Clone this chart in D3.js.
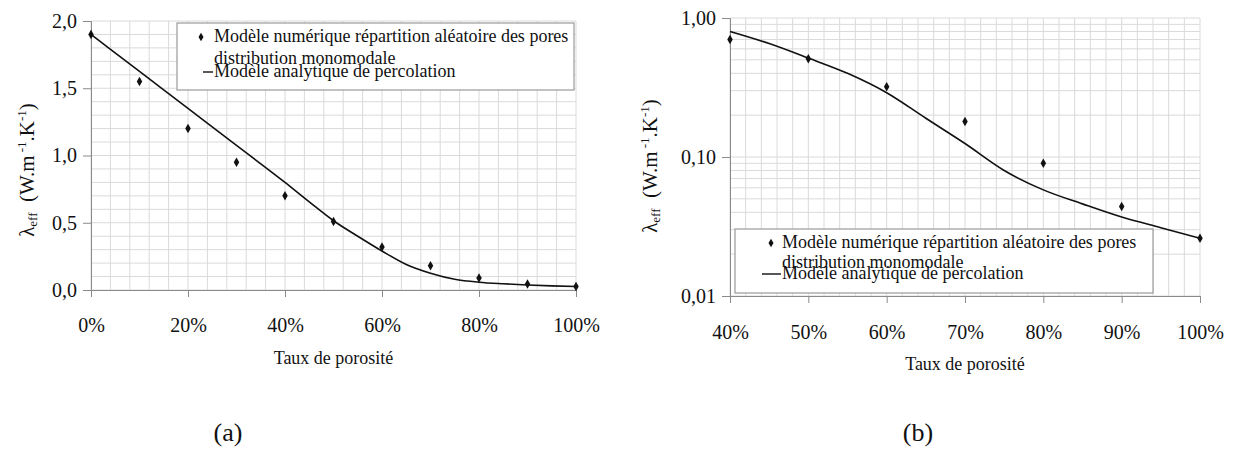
<!DOCTYPE html>
<meta charset="utf-8">
<body style="margin:0;background:#fff">
<div id="div-svg"></div>
<style>
  svg text { font-family: "Liberation Serif", "Times New Roman", "DejaVu Serif", serif !important; fill: #111; }
</style>
<script src="https://cdn.jsdelivr.net/npm/d3@7"></script>
<script>
    // porosity (%) and effective conductivity values
    var porosite = [0, 10, 20, 30, 40, 50, 60, 70, 80, 90, 100];
    var numerique = [1.9, 1.55, 1.2, 0.95, 0.70, 0.51, 0.32, 0.18, 0.09, 0.044, 0.026];
    var porositeAnalytique = [0, 10, 20, 30, 40, 45, 50, 55, 60, 65, 70, 75, 80, 85, 90, 95, 100];
    var analytique = [1.9, 1.625, 1.35, 1.075, 0.80, 0.655, 0.515, 0.40, 0.29, 0.19, 0.125, 0.08, 0.058, 0.046, 0.037, 0.031, 0.026];

    var ticksXa = [0, 20, 40, 60, 80, 100];
    var ticksYa = [0, 0.5, 1, 1.5, 2];
    var ticksXb = [40, 50, 60, 70, 80, 90, 100];
    var ticksYb = [0.01, 0.1, 1];

    var legendLabels = ["Modèle numérique répartition aléatoire des pores", "distribution monomodale", "Modèle analytique de percolation"];
    var captions = ["(a)", "(b)"];

    var width = 1235, height = 463;
    var svg = d3.select("#div-svg").append("svg")
        .attr("width", width)
        .attr("height", height);

    var pts = porosite.map(function(p, i){ return {x: p, y: numerique[i]}; });
    var curve = porositeAnalytique.map(function(p, i){ return {x: p, y: analytique[i]}; });

    function panel(o) {
      var g = svg.append("g");
      var x = d3.scaleLinear().domain(o.xdom).range([o.left, o.right]);
      var y = o.log
        ? d3.scaleLog().domain(o.ydom).range([o.bottom, o.top])
        : d3.scaleLinear().domain(o.ydom).range([o.bottom, o.top]);

      // grid
      var gx = d3.range(o.xdom[0], o.xdom[1] + 0.01, o.xminor);
      var gy = o.log ? y.ticks() : d3.range(o.ydom[0], o.ydom[1] + 0.001, 0.1);
      g.selectAll(".gx").data(gx).enter().append("line")
        .attr("x1", x).attr("x2", x).attr("y1", o.top).attr("y2", o.bottom)
        .attr("stroke", "#dadada").attr("stroke-width", 1);
      g.selectAll(".gy").data(gy).enter().append("line")
        .attr("y1", y).attr("y2", y).attr("x1", o.left).attr("x2", o.right)
        .attr("stroke", "#dadada").attr("stroke-width", 1);

      // axes
      var ax = g.append("g").attr("transform", "translate(0," + o.bottom + ")")
        .call(d3.axisBottom(x).tickValues(o.xticks).tickSize(7).tickPadding(o.xpad)
          .tickFormat(function(d){ return d + "%"; }));
      var ay = g.append("g").attr("transform", "translate(" + o.left + ",0)")
        .call(d3.axisLeft(y).tickValues(o.yticks).tickSize(8).tickPadding(6)
          .tickFormat(o.yfmt));
      [ax, ay].forEach(function(a){
        a.attr("font-family", null);
        a.select(".domain").attr("stroke", "#8a8a8a");
        a.selectAll(".tick line").attr("stroke", "#8a8a8a");
        a.selectAll("text").style("font-size", "20px").attr("fill", "#111");
      });

      // analytical curve
      g.append("path")
        .datum(curve.filter(function(d){ return d.x >= o.xdom[0]; }))
        .attr("fill", "none").attr("stroke", "#111").attr("stroke-width", 1.6)
        .attr("d", d3.line().curve(d3.curveMonotoneX)
          .x(function(d){ return x(d.x); }).y(function(d){ return y(d.y); }));

      // numerical points
      g.selectAll(".pt").data(pts.filter(function(d){ return d.x >= o.xdom[0]; }))
        .enter().append("path")
        .attr("d", d3.symbol().type(d3.symbolDiamond).size(26))
        .attr("transform", function(d){ return "translate(" + x(d.x) + "," + y(d.y) + ")"; })
        .attr("fill", "#111");

      // legend
      var L = o.legend;
      var lg = g.append("g").attr("transform", "translate(" + L.x + "," + L.y + ")");
      lg.append("rect").attr("width", L.w).attr("height", L.h)
        .attr("fill", "#fff").attr("stroke", "#9a9a9a").attr("stroke-width", 1.2);
      lg.append("path").attr("d", d3.symbol().type(d3.symbolDiamond).size(22))
        .attr("transform", "translate(" + L.mx + "," + L.r1 + ")").attr("fill", "#111");
      lg.append("line").attr("x1", L.lx0).attr("x2", L.tx - 1).attr("y1", L.r3 - 5).attr("y2", L.r3 - 5)
        .attr("stroke", "#111").attr("stroke-width", 1.4);
      [L.r1 + 5, L.r2, L.r3].forEach(function(yy, i){
        lg.append("text").attr("x", L.tx).attr("y", yy)
          .style("font-size", L.fs + "px").text(legendLabels[i]);
      });

      // axis titles
      g.append("text").attr("x", (o.left + o.right) / 2).attr("y", o.xlabY)
        .attr("text-anchor", "middle").style("font-size", "18px").text("Taux de porosité");

      var yl = g.append("text")
        .attr("transform", "translate(" + o.ylabX + "," + o.ylabY + ") rotate(-90)")
        .attr("text-anchor", "middle").style("font-size", "21px");
      yl.append("tspan").text("λ");
      yl.append("tspan").attr("dy", 3).style("font-size", "13px").text("eff");
      yl.append("tspan").attr("dy", -3).text("\u00a0 (W.m");
      yl.append("tspan").attr("dy", -8).style("font-size", "13px").text("\u00a0-1");
      yl.append("tspan").attr("dy", 8).text(".K");
      yl.append("tspan").attr("dy", -8).style("font-size", "13px").text("-1");
      yl.append("tspan").attr("dy", 8).text(")");

      g.append("text").attr("x", o.capX).attr("y", 441)
        .attr("text-anchor", "middle").style("font-size", "26px").text(o.caption);
    }

    panel({
      left: 91, right: 576, top: 21, bottom: 290,
      xdom: [0, 100], ydom: [0, 2], log: false, xminor: 4, xpad: 21,
      xticks: ticksXa, yticks: ticksYa,
      yfmt: function(d){ return d3.format(".1f")(d).replace(".", ","); },
      legend: {x: 177, y: 23, w: 397, h: 67, mx: 24, tx: 37, lx0: 26, r1: 14, r2: 41, r3: 54, fs: 18},
      xlabY: 364, ylabX: 34, ylabY: 170, capX: 228, caption: captions[0]
    });

    panel({
      left: 730, right: 1200, top: 18, bottom: 296,
      xdom: [40, 100], ydom: [0.01, 1], log: true, xminor: 2, xpad: 22,
      xticks: ticksXb, yticks: ticksYb,
      yfmt: function(d){ return d3.format(".2f")(d).replace(".", ","); },
      legend: {x: 735, y: 229, w: 418, h: 64, mx: 36, tx: 47, lx0: 27, r1: 14, r2: 39, r3: 50, fs: 18},
      xlabY: 370, ylabX: 657, ylabY: 166, capX: 918, caption: captions[1]
    });
</script>
</body>
